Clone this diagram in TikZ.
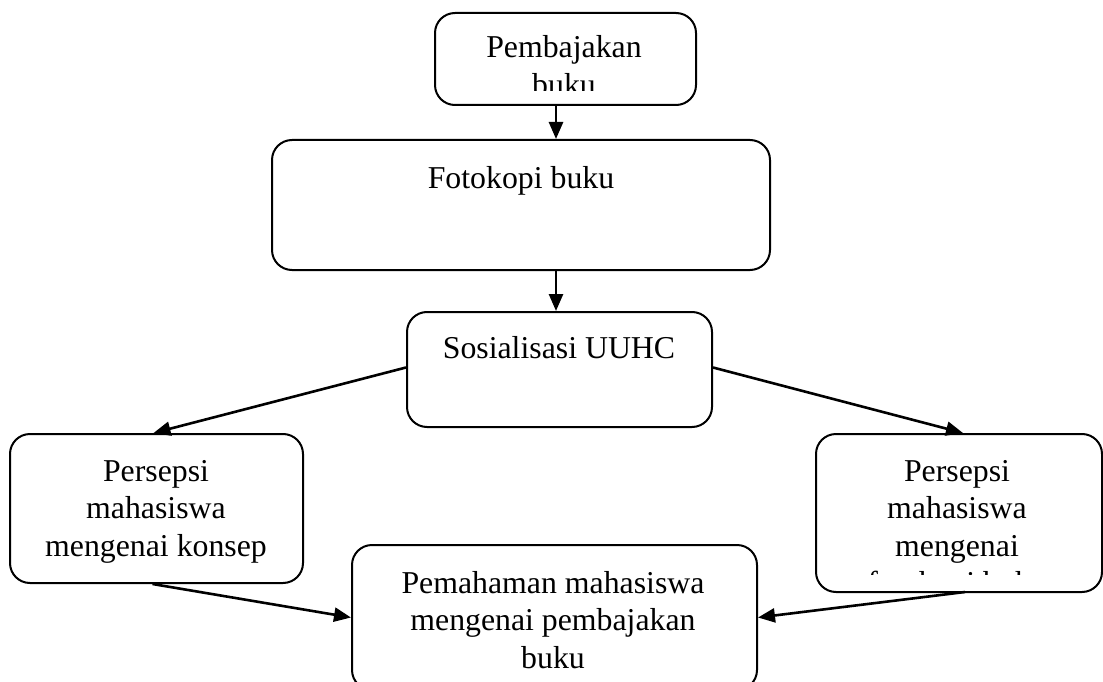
\documentclass[tikz,border=0pt]{standalone}
\usepackage{fontspec}
\setmainfont{Liberation Serif}
\usetikzlibrary{arrows.meta,calc}
\tikzset{
  box/.style={draw, line width=2pt, rounded corners=20pt, inner sep=0pt},
  lbl/.style={anchor=base, inner sep=0pt, font=\fontsize{31.8}{37.5}\selectfont},
  arr/.style={line width=2.6pt, -{Triangle[length=17pt,width=14pt]}}
}
\newcommand{\ml}[1]{\begin{tabular}[t]{@{}c@{}}#1\end{tabular}}
\begin{document}
\begin{tikzpicture}[x=1pt,y=-1pt]
\useasboundingbox (0,0) rectangle (1103,682);
\clip (0,0) rectangle (1103,682);
% text
\begin{scope}
\clip (435,13) rectangle (696,91);
\node[lbl] (tA) at (564,58) {\ml{Pembajakan\\buku}};
\end{scope}
\node[lbl] (tB) at (521,188) {Fotokopi buku};
\node[lbl] (tC) at (559,358) {Sosialisasi UUHC};
\node[lbl] (tD) at (156,481) {\ml{Persepsi\\mahasiswa\\mengenai konsep}};
\begin{scope}
\clip (816,434) rectangle (1102,574);
\node[lbl] (tE) at (957,481) {\ml{Persepsi\\mahasiswa\\mengenai\\fotokopi buku}};
\end{scope}
\node[lbl] (tF) at (553,593) {\ml{Pemahaman mahasiswa\\mengenai pembajakan\\buku}};
% boxes
\node[box, minimum width=261pt, minimum height=92pt] (A) at (565.5,59) {};
\node[box, minimum width=498pt, minimum height=130pt] (B) at (521,205) {};
\node[box, minimum width=305pt, minimum height=115pt] (C) at (559.5,369.5) {};
\node[box, minimum width=293pt, minimum height=149pt] (D) at (156.5,508.5) {};
\node[box, minimum width=286pt, minimum height=158pt] (E) at (959,513) {};
\node[box, minimum width=405pt, minimum height=145pt] (F) at (554.5,617.5) {};
% connectors
\coordinate (ax) at (556,0);
\draw[arr] (A.south -| ax) -- (B.north -| ax);
\draw[arr] (B.south -| ax) -- (C.north -| ax);
\draw[arr] ($(C.west)+(0,-2)$) -- ($(D.north)+(-3,0)$);
\draw[arr] ($(C.east)+(0,-2)$) -- ($(E.north)+(4,0)$);
\draw[arr] ($(D.south)+(-4,0)$) -- (F.west);
\draw[arr] ($(E.south)+(6,-1)$) -- (F.east);
\end{tikzpicture}
\end{document}
